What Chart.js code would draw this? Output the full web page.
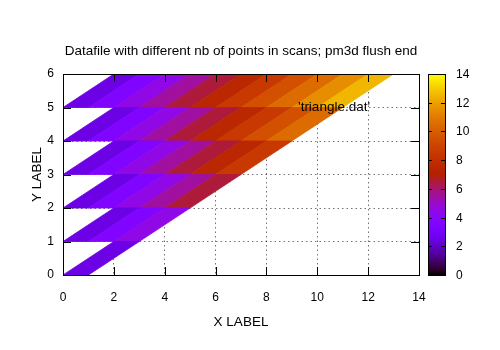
<!DOCTYPE html>
<html>
<head>
<meta charset="utf-8">
<script src="https://cdn.jsdelivr.net/npm/chart.js@4"></script>
<style>
  html, body { margin: 0; padding: 0; background: #fff; }
  #wrap { width: 500px; height: 350px; }
</style>
</head>
<body>
<div id="wrap"><canvas id="pm3dChart" width="500" height="350"></canvas></div>
<script>
// du lieu: moi scan co y co dinh, so diem khac nhau (triangle.dat)
const scanY = [0, 1, 2, 3, 4, 5, 6];
const scanX = [
    [0, 1],
    [0, 1, 2, 3],
    [0, 1, 2, 3, 4, 5],
    [0, 1, 2, 3, 4, 5, 6, 7],
    [0, 1, 2, 3, 4, 5, 6, 7, 8, 9],
    [0, 1, 2, 3, 4, 5, 6, 7, 8, 9, 10, 11],
    [0, 1, 2, 3, 4, 5, 6, 7, 8, 9, 10, 11, 12, 13]
];
const scanZ = [
    [1, 2],
    [1, 2, 3, 4],
    [1, 2, 3, 4, 5, 6],
    [1, 2, 3, 4, 5, 6, 7, 8],
    [1, 2, 3, 4, 5, 6, 7, 8, 9, 10],
    [1, 2, 3, 4, 5, 6, 7, 8, 9, 10, 11, 12],
    [1, 2, 3, 4, 5, 6, 7, 8, 9, 10, 11, 12, 13, 14]
];
const xTicks = [0, 2, 4, 6, 8, 10, 12, 14];
const yTicks = [0, 1, 2, 3, 4, 5, 6];
const cbTicks = [0, 2, 4, 6, 8, 10, 12, 14];
const cbMin = 0, cbMax = 14;

const FONT = 'Liberation Sans, Arial, sans-serif';
const LABEL_SIZE = 13.5;

// bang mau gnuplot rgbformulae 7,5,15
function palette(v) {
    let t = (v - cbMin) / (cbMax - cbMin);
    t = Math.max(0, Math.min(1, t));
    const r = Math.sqrt(t);
    const g = t * t * t;
    const b = Math.max(0, Math.sin(2 * Math.PI * t));
    return 'rgb(' + Math.round(r * 255) + ',' + Math.round(g * 255) + ',' + Math.round(b * 255) + ')';
}

// pm3d flush end: ghep cac diem tu cuoi scan
const datasets = [];
for (let j = 0; j < scanY.length - 1; j++) {
    const xa = scanX[j], za = scanZ[j], xb = scanX[j + 1], zb = scanZ[j + 1];
    const n = Math.min(xa.length, xb.length);
    for (let m = 0; m < n - 1; m++) {
        const a1 = xa.length - 1 - m, a0 = a1 - 1;
        const b1 = xb.length - 1 - m, b0 = b1 - 1;
        const zMean = (za[a0] + za[a1] + zb[b0] + zb[b1]) / 4;
        const col = palette(zMean);
        datasets.push({
            data: [
                { x: xa[a0], y: scanY[j] },
                { x: xa[a1], y: scanY[j] },
                { x: xb[b1], y: scanY[j + 1] },
                { x: xb[b0], y: scanY[j + 1] },
                { x: xa[a0], y: scanY[j] }
            ],
            showLine: true,
            fill: 'shape',
            backgroundColor: col,
            borderColor: col,
            borderWidth: 0.8,
            pointRadius: 0,
            tension: 0
        });
    }
}

// ve tieu de, vien, vach chia, thanh mau
const gnuplotExtras = {
    id: 'gnuplotExtras',
    afterDraw(chart) {
        const ctx = chart.ctx;
        const area = chart.chartArea;
        const xs = chart.scales.x, ys = chart.scales.y;
        ctx.save();

        // vien khung
        ctx.strokeStyle = '#000';
        ctx.lineWidth = 1;
        ctx.strokeRect(Math.round(area.left) + 0.5, Math.round(area.top) + 0.5,
            Math.round(area.right - area.left), Math.round(area.bottom - area.top));

        // vach chia huong vao trong
        const tl = 8;
        ctx.beginPath();
        xTicks.forEach(v => {
            const px = Math.round(xs.getPixelForValue(v)) + 0.5;
            ctx.moveTo(px, area.bottom); ctx.lineTo(px, area.bottom - tl);
            ctx.moveTo(px, area.top); ctx.lineTo(px, area.top + tl);
        });
        yTicks.forEach(v => {
            const py = Math.round(ys.getPixelForValue(v)) + 0.5;
            ctx.moveTo(area.left, py); ctx.lineTo(area.left + tl, py);
            ctx.moveTo(area.right, py); ctx.lineTo(area.right - tl, py);
        });
        ctx.stroke();

        // tieu de
        ctx.fillStyle = '#000';
        ctx.font = LABEL_SIZE + 'px ' + FONT;
        ctx.textAlign = 'center';
        ctx.textBaseline = 'middle';
        ctx.fillText('Datafile with different nb of points in scans; pm3d flush end',
            (area.left + area.right) / 2, 51);

        // chu thich
        ctx.textAlign = 'right';
        ctx.fillText("'triangle.dat'", area.right - 49, area.top + 33);

        // thanh mau
        const cbL = area.right + 9, cbR = area.right + 26;
        const cbT = area.top, cbB = area.bottom;
        const grad = ctx.createLinearGradient(0, cbB, 0, cbT);
        for (let i = 0; i <= 64; i++) {
            grad.addColorStop(i / 64, palette(cbMin + (cbMax - cbMin) * i / 64));
        }
        ctx.fillStyle = grad;
        ctx.fillRect(cbL, cbT, cbR - cbL, cbB - cbT);
        ctx.strokeStyle = '#000';
        ctx.strokeRect(cbL + 0.5, Math.round(cbT) + 0.5, cbR - cbL, Math.round(cbB - cbT));

        ctx.fillStyle = '#000';
        ctx.font = '12px ' + FONT;
        ctx.textAlign = 'left';
        ctx.beginPath();
        cbTicks.forEach(v => {
            const py = Math.round(cbB - (v - cbMin) / (cbMax - cbMin) * (cbB - cbT)) + 0.5;
            if (v !== cbMin && v !== cbMax) {
                ctx.moveTo(cbL, py); ctx.lineTo(cbL + 4, py);
                ctx.moveTo(cbR, py); ctx.lineTo(cbR - 4, py);
            }
            ctx.fillText(String(v), cbR + 11, py);
        });
        ctx.stroke();
        ctx.restore();
    }
};

new Chart(document.getElementById('pm3dChart').getContext('2d'), {
    type: 'scatter',
    data: { datasets: datasets },
    options: {
        responsive: false,
        animation: false,
        events: [],
        layout: { padding: { top: 74, right: 81, left: 0, bottom: 0 } },
        plugins: {
            legend: { display: false },
            tooltip: { enabled: false },
            title: { display: false }
        },
        scales: {
            x: {
                type: 'linear',
                min: 0,
                max: 14,
                z: 1,
                afterFit: s => { s.height = 75; },
                afterBuildTicks: s => { s.ticks = xTicks.map(v => ({ value: v })); },
                ticks: { color: '#000', font: { family: FONT, size: 12 }, padding: 15, maxRotation: 0 },
                grid: { color: 'rgba(0,0,0,0.55)', drawTicks: false, lineWidth: 1 },
                border: { display: false, dash: [1.5, 3] },
                title: { display: true, text: 'X LABEL', color: '#000', font: { family: FONT, size: LABEL_SIZE }, padding: { top: 0, bottom: 20 } }
            },
            y: {
                type: 'linear',
                min: 0,
                max: 6,
                z: 1,
                afterFit: s => { s.width = 63; },
                afterBuildTicks: s => { s.ticks = yTicks.map(v => ({ value: v })); },
                ticks: { color: '#000', font: { family: FONT, size: 12 }, padding: 9 },
                grid: { color: 'rgba(0,0,0,0.55)', drawTicks: false, lineWidth: 1 },
                border: { display: false, dash: [1.5, 3] },
                title: { display: true, text: 'Y LABEL', color: '#000', font: { family: FONT, size: LABEL_SIZE }, padding: { top: 29, bottom: 0 } }
            }
        }
    },
    plugins: [gnuplotExtras]
});
</script>
</body>
</html>
